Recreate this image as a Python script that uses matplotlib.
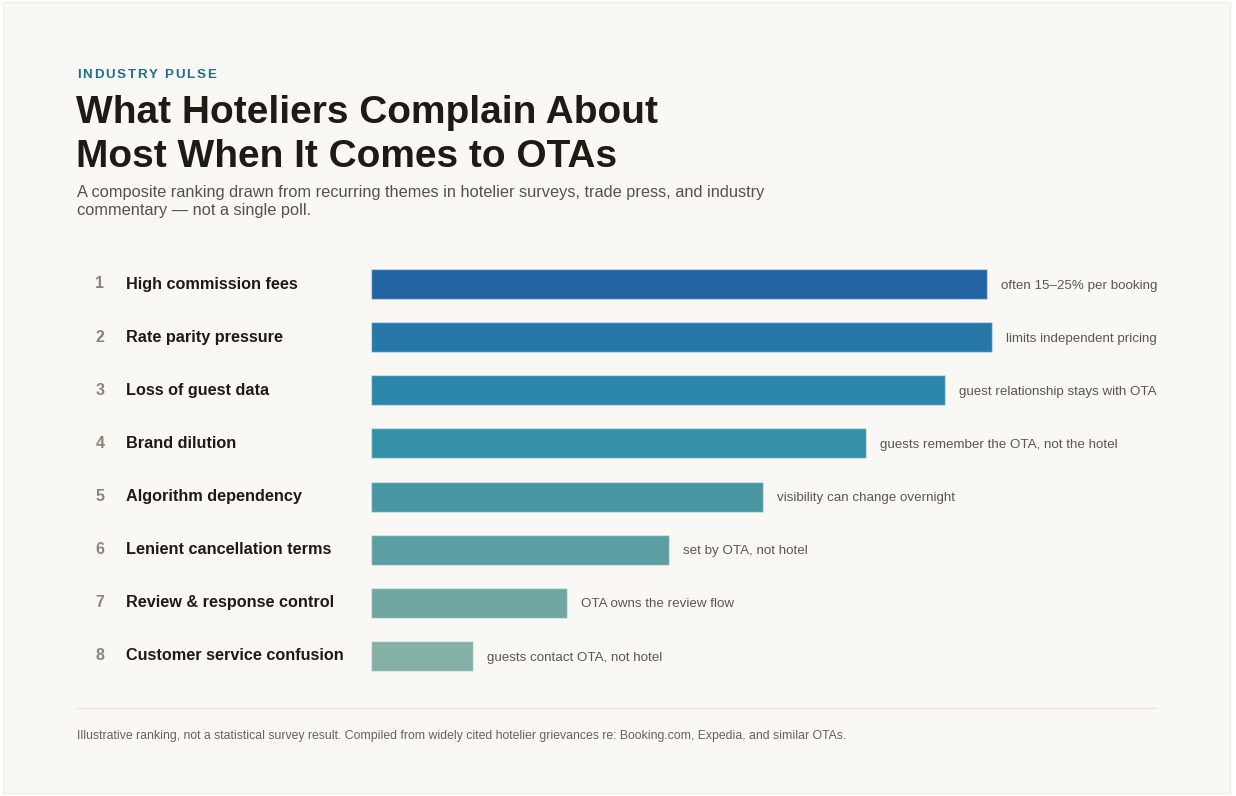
import matplotlib
matplotlib.use("Agg")
from matplotlib import pyplot as plt
from matplotlib.patches import Rectangle
from matplotlib.transforms import blended_transform_factory
import numpy as np

plt.rcParams['font.family'] = ['Liberation Sans', 'DejaVu Sans']

# Data
ranks = [1, 2, 3, 4, 5, 6, 7, 8]
complaints = ["High commission fees", "Rate parity pressure", "Loss of guest data",
              "Brand dilution", "Algorithm dependency", "Lenient cancellation terms",
              "Review & response control", "Customer service confusion"]
scores = [96, 96.7, 89.4, 77.1, 61.1, 46.4, 30.5, 15.9]
notes = ["often 15\u201325% per booking", "limits independent pricing",
         "guest relationship stays with OTA", "guests remember the OTA, not the hotel",
         "visibility can change overnight", "set by OTA, not hotel",
         "OTA owns the review flow", "guests contact OTA, not hotel"]
bar_colors = ["#2364a3", "#2778a9", "#2a86aa", "#358fa7",
              "#4896a2", "#5b9fa2", "#70a8a1", "#85b0a7"]

W, H = 1236, 796
fig = plt.figure(figsize=(W / 100, H / 100), dpi=100)
fig.patch.set_facecolor("#ffffff")

# background axes in pixel coordinates
bg = fig.add_axes([0, 0, 1, 1])
bg.set_xlim(0, W)
bg.set_ylim(H, 0)
bg.axis('off')
bg.add_patch(Rectangle((3, 2), 1227, 791, facecolor="#f9f8f5", edgecolor="#f0eee9", lw=1))

# letter-spaced kicker
def spaced_text(ax, x, y, s, spacing, **kw):
    r = fig.canvas.get_renderer()
    probe = ax.text(0, 0, "|", **kw)
    bar_w = probe.get_window_extent(r).width
    probe.remove()
    for i, ch in enumerate(s):
        t = ax.text(0, 0, s[:i] + "|", **kw)
        w = t.get_window_extent(r).width - bar_w
        t.remove()
        ax.text(x + w + i * spacing, y, ch, **kw)

spaced_text(bg, 77, 78, "INDUSTRY PULSE", 1.8, fontsize=9.6, fontweight='bold',
            color="#1f6f8b", va='baseline')

bg.text(76, 123, "What Hoteliers Complain About", fontsize=28, fontweight='bold',
        color="#1e1b14", va='baseline')
bg.text(76, 167, "Most When It Comes to OTAs", fontsize=28, fontweight='bold',
        color="#1e1b14", va='baseline')
bg.text(77, 197, "A composite ranking drawn from recurring themes in hotelier surveys, trade press, and industry",
        fontsize=11.8, color="#55524b", va='baseline')
bg.text(77, 215, "commentary \u2014 not a single poll.",
        fontsize=11.8, color="#55524b", va='baseline')

# bars
row_top, row_bot = 284, 656
step = (row_bot - row_top) / 7
x0, x100 = 371, 1013
bx = fig.add_axes([x0 / W, 1 - (row_bot + step / 2) / H,
                   (x100 - x0) / W, (row_bot - row_top + step) / H])
bx.set_xlim(0, 100)
bx.set_ylim(7.5, -0.5)
bx.axis('off')
bx.patch.set_alpha(0)

y = np.arange(len(complaints))
bx.barh(y, scores, height=30 / step, color=bar_colors,
        edgecolor=(1, 1, 1, 0.45), linewidth=1)

tr = blended_transform_factory(bg.transData, bx.transData)
for i in range(len(complaints)):
    bx.text(100, y[i], str(ranks[i]), transform=tr, ha='center', va='center',
            fontsize=11.5, fontweight='bold', color="#8a8576")
    bx.text(126, y[i], complaints[i], transform=tr, ha='left', va='center',
            fontsize=11.7, fontweight='bold', color="#1e1b14")
    bx.annotate(notes[i], (scores[i], y[i]), xytext=(14, -1.5), textcoords='offset pixels',
                ha='left', va='center', fontsize=9.6, color="#5a5750")

# footer
bg.plot([77, 1156], [708, 708], color="#e6e3dd", lw=1)
bg.text(77, 739, "Illustrative ranking, not a statistical survey result. Compiled from widely cited hotelier grievances re: Booking.com, Expedia, and similar OTAs.",
        fontsize=8.8, color="#66625a", va='baseline')

fig.savefig("out.png", dpi=100, facecolor=fig.get_facecolor())
